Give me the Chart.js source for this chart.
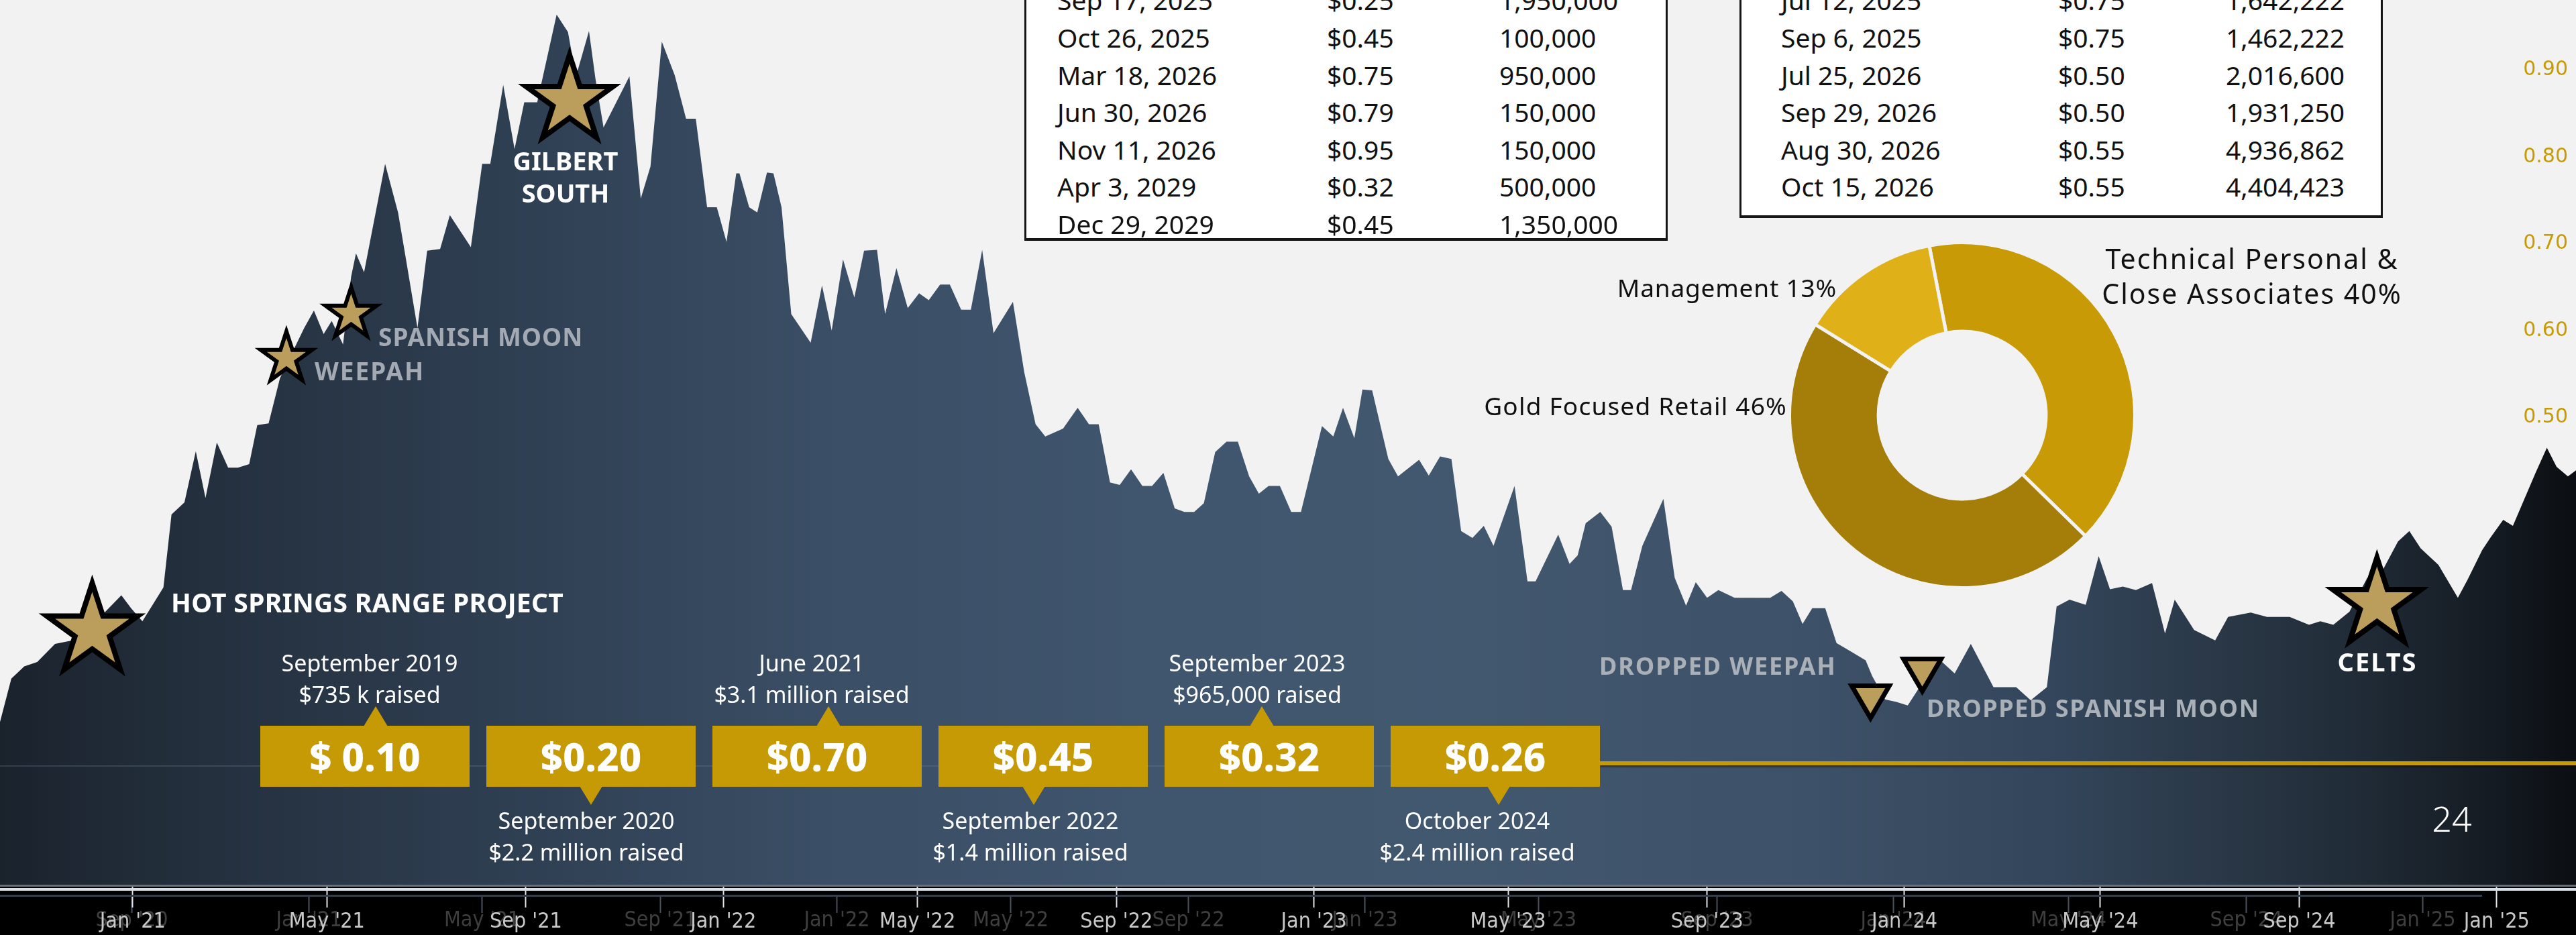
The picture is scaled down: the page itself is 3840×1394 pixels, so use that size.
<!DOCTYPE html>
<html>
<head>
<meta charset="utf-8">
<title>Share price history</title>
<script src="https://cdn.jsdelivr.net/npm/chart.js@4.4.1/dist/chart.umd.min.js"></script>
<style>
  html, body { margin:0; padding:0; background:#f2f2f2; }
  #wrap { position:relative; width:3840px; height:1394px; overflow:hidden; background:#f2f2f2;
          font-family:'Noto Sans','DejaVu Sans',sans-serif; }
  canvas { position:absolute; display:block; }
  .t { position:absolute; white-space:pre; line-height:1; transform:translateY(-50%); }
  .box { position:absolute; box-sizing:border-box; background:#fff; border:3px solid #151515; border-bottom-width:4px; }
  .price { position:absolute; width:312px; height:91px; background:#c69a04; color:#fff; font-weight:800;
           font-size:58px; display:flex; align-items:center; justify-content:center; line-height:1; }
  .tri-up { position:absolute; width:0; height:0; border-left:18px solid transparent; border-right:18px solid transparent; border-bottom:30px solid #c69a04; }
  .tri-down { position:absolute; width:0; height:0; border-left:17px solid transparent; border-right:17px solid transparent; border-top:28px solid #c69a04; }
</style>
</head>
<body>
<div id="wrap">
  <canvas id="main" width="3840" height="1394" style="left:0;top:0"></canvas>
  <canvas id="donut" width="520" height="520" style="left:2665px;top:359px"></canvas>
</div>
<script>
// ================= DATA =================
const priceDates = [
 '2020-10-11','2020-10-18','2020-10-26','2020-11-03','2020-11-14','2020-11-30','2020-12-13','2020-12-25','2020-12-31',
 '2021-01-07','2021-01-15','2021-01-20','2021-01-25','2021-02-02','2021-02-09','2021-02-15','2021-02-22','2021-03-01',
 '2021-03-07','2021-03-14','2021-03-19','2021-03-26','2021-04-02','2021-04-10','2021-04-17','2021-04-23','2021-04-29',
 '2021-05-04','2021-05-11','2021-05-16','2021-05-19','2021-05-24','2021-06-06','2021-06-14','2021-06-18','2021-06-26',
 '2021-07-02','2021-07-10','2021-07-16','2021-07-29','2021-08-05','2021-08-10','2021-08-18','2021-08-25','2021-08-31',
 '2021-09-08','2021-09-20','2021-09-27','2021-10-02','2021-10-10','2021-10-14','2021-10-19','2021-11-04','2021-11-11',
 '2021-11-17','2021-11-24','2021-12-02','2021-12-09','2021-12-15','2021-12-22','2021-12-28','2022-01-03','2022-01-09',
 '2022-01-11','2022-01-17','2022-01-22','2022-01-28','2022-02-01','2022-02-06','2022-02-12','2022-02-24','2022-03-03',
 '2022-03-09','2022-03-16','2022-03-23','2022-03-29','2022-04-06','2022-04-11','2022-04-18','2022-04-25','2022-05-02',
 '2022-05-08','2022-05-15','2022-05-21','2022-05-28','2022-06-03','2022-06-10','2022-06-17','2022-06-29','2022-07-06',
 '2022-07-13','2022-07-19','2022-07-30','2022-08-08','2022-08-15','2022-08-21','2022-08-28','2022-09-03','2022-09-10',
 '2022-09-17','2022-09-23','2022-09-30','2022-10-07','2022-10-13','2022-10-19','2022-10-25','2022-11-01','2022-11-08',
 '2022-11-15','2022-11-22','2022-11-28','2022-12-04','2022-12-11','2022-12-18','2022-12-24','2023-01-06','2023-01-13',
 '2023-01-19','2023-01-26','2023-01-31','2023-02-06','2023-02-16','2023-02-22','2023-03-07','2023-03-13','2023-03-20',
 '2023-03-27','2023-04-02','2023-04-09','2023-04-16','2023-04-22','2023-05-05','2023-05-13','2023-05-18','2023-06-01',
 '2023-06-08','2023-06-13','2023-06-18','2023-06-27','2023-07-04','2023-07-11','2023-07-16','2023-07-23','2023-08-05',
 '2023-08-12','2023-08-19','2023-08-25','2023-09-01','2023-09-08','2023-09-18','2023-10-10','2023-10-17','2023-10-24',
 '2023-10-30','2023-11-05','2023-11-13','2023-11-20','2023-11-29','2023-12-08','2023-12-12','2023-12-20','2023-12-27',
 '2024-01-03','2024-01-12','2024-01-22','2024-02-01','2024-02-11','2024-02-25','2024-03-10','2024-03-19','2024-03-29',
 '2024-04-04','2024-04-12','2024-04-22','2024-04-30','2024-05-07','2024-05-15','2024-05-23','2024-06-02','2024-06-10',
 '2024-06-16','2024-06-28','2024-07-11','2024-07-19','2024-08-02','2024-08-12','2024-08-26','2024-09-07','2024-09-14',
 '2024-09-22','2024-10-02','2024-10-13','2024-10-22','2024-11-01','2024-11-08','2024-11-15','2024-11-26','2024-12-08',
 '2024-12-14','2024-12-23','2024-12-28','2025-01-05','2025-01-11','2025-01-25','2025-02-01','2025-02-07','2025-02-14',
 '2025-02-19'
];
const priceValues = [
 0.149,0.199,0.213,0.218,0.239,0.245,0.272,0.295,0.280,
 0.265,0.289,0.304,0.388,0.402,0.461,0.407,0.471,0.442,
 0.442,0.446,0.491,0.493,0.545,0.576,0.603,0.623,0.596,
 0.611,0.584,0.662,0.689,0.667,0.792,0.736,0.692,0.603,
 0.692,0.694,0.733,0.696,0.792,0.792,0.883,0.809,0.863,
 0.863,0.964,0.944,0.893,0.945,0.890,0.834,0.893,0.752,
 0.789,0.933,0.894,0.844,0.844,0.742,0.742,0.702,0.781,
 0.781,0.742,0.736,0.782,0.781,0.742,0.619,0.586,0.652,
 0.600,0.682,0.638,0.692,0.693,0.619,0.672,0.626,0.643,
 0.635,0.653,0.653,0.624,0.624,0.693,0.597,0.633,0.552,
 0.492,0.478,0.487,0.511,0.492,0.492,0.425,0.422,0.440,
 0.421,0.421,0.436,0.395,0.391,0.391,0.401,0.460,0.472,
 0.472,0.432,0.412,0.421,0.421,0.391,0.391,0.490,0.478,
 0.511,0.476,0.532,0.531,0.452,0.432,0.451,0.433,0.455,
 0.452,0.369,0.361,0.375,0.352,0.421,0.311,0.311,0.365,
 0.331,0.341,0.378,0.391,0.374,0.301,0.301,0.352,0.406,
 0.315,0.283,0.310,0.292,0.301,0.292,0.292,0.300,0.288,
 0.262,0.280,0.280,0.240,0.230,0.220,0.202,0.175,0.172,
 0.168,0.194,0.222,0.205,0.239,0.189,0.189,0.174,0.189,
 0.282,0.290,0.284,0.340,0.302,0.305,0.301,0.309,0.251,
 0.290,0.255,0.243,0.270,0.275,0.270,0.270,0.261,0.265,
 0.261,0.276,0.315,0.322,0.357,0.369,0.349,0.330,0.292,
 0.313,0.347,0.361,0.382,0.375,0.436,0.465,0.443,0.432,
 0.439
];
const tickDates = ['2021-01-01','2021-05-01','2021-09-01','2022-01-01','2022-05-01','2022-09-01','2023-01-01',
                   '2023-05-01','2023-09-01','2024-01-01','2024-05-01','2024-09-01','2025-01-01'];
const tickLabels = ["Jan '21","May '21","Sep '21","Jan '22","May '22","Sep '22","Jan '23",
                    "May '23","Sep '23","Jan '24","May '24","Sep '24","Jan '25"];
const ghostTickDates = ['2020-09-01','2021-01-01','2021-05-01','2021-09-01','2022-01-01','2022-05-01','2022-09-01',
                        '2023-01-01','2023-05-01','2023-09-01','2024-01-01','2024-05-01','2024-09-01','2025-01-01'];
const ghostTickLabels = ["Sep '20","Jan '21","May '21","Sep '21","Jan '22","May '22","Sep '22",
                         "Jan '23","May '23","Sep '23","Jan '24","May '24","Sep '24","Jan '25"];
const ghostRange = ['2020-06-02','2025-04-17'];
const yTickValues = [0.2,0.3,0.4,0.5,0.6,0.7,0.8,0.9];
const yRange = [-0.0385, 0.9762];

const starNames  = ['HOT SPRINGS RANGE PROJECT','WEEPAH','SPANISH MOON','GILBERT SOUTH','CELTS'];
const starDates  = ['2020-12-07','2021-04-06','2021-05-16','2021-09-28','2024-10-19'];
const starValues = [0.254, 0.568, 0.619, 0.865, 0.285];
const dropNames  = ['DROPPED WEEPAH','DROPPED SPANISH MOON'];
const dropDates  = ['2023-12-11','2024-01-12'];
const dropValues = [0.172, 0.203];

const raisePrices  = ['$ 0.10','$0.20','$0.70','$0.45','$0.32','$0.26'];
const raiseMonths  = ['September 2019','September 2020','June 2021','September 2022','September 2023','October 2024'];
const raiseAmounts = ['$735 k raised','$2.2 million raised','$3.1 million raised','$1.4 million raised','$965,000 raised','$2.4 million raised'];

const holderLabels = ['Technical Personal & Close Associates','Gold Focused Retail','Management'];
const holderShares = [40, 46, 13];

const leftTableDates  = ['Sep 17, 2025','Oct 26, 2025','Mar 18, 2026','Jun 30, 2026','Nov 11, 2026','Apr 3, 2029','Dec 29, 2029'];
const leftTablePrices = ['$0.25','$0.45','$0.75','$0.79','$0.95','$0.32','$0.45'];
const leftTableShares = ['1,950,000','100,000','950,000','150,000','150,000','500,000','1,350,000'];
const rightTableDates  = ['Jul 12, 2025','Sep 6, 2025','Jul 25, 2026','Sep 29, 2026','Aug 30, 2026','Oct 15, 2026'];
const rightTablePrices = ['$0.75','$0.75','$0.50','$0.50','$0.55','$0.55'];
const rightTableShares = ['1,642,222','1,462,222','2,016,600','1,931,250','4,936,862','4,404,423'];
const pageNumber = '24';

// ================= STYLE / LAYOUT =================
const starStyle = { radius:[71,40,40,68,69], width:[8,6,6,8,8], fill:'#bc9e5c' };
const dropStyle = { w:56, h:48, width:7, fill:'#bc9e5c' };
const axisFont = "'DejaVu Sans Condensed','Liberation Sans Narrow',sans-serif";

const dayNum = s => { const [y,m,d] = s.split('-').map(Number); return (Date.UTC(y,m-1,d) - Date.UTC(2021,0,1)) / 86400000; };

function areaFill(context) {
  const chart = context.chart; const {ctx, chartArea} = chart;
  if (!chartArea) return '#34475c';
  const g = ctx.createLinearGradient(chartArea.left, 0, chartArea.right, 0);
  [[0,'#1a222c'],[0.06,'#222d3a'],[0.19,'#2e3e51'],[0.32,'#3a4e65'],[0.45,'#40566e'],[0.57,'#42586f'],
   [0.70,'#3d5168'],[0.80,'#33455a'],[0.86,'#2a3847'],[0.92,'#1f2a35'],[0.97,'#141a21'],[1,'#0b0e12']]
   .forEach(([o,c]) => g.addColorStop(o,c));
  return g;
}

function starPath(ctx, cx, cy, R) {
  const r = R * 0.382;
  ctx.beginPath();
  for (let i = 0; i < 10; i++) {
    const a = -Math.PI/2 + i*Math.PI/5, rad = i % 2 === 0 ? R : r;
    const px = cx + rad*Math.cos(a), py = cy + rad*Math.sin(a);
    i ? ctx.lineTo(px, py) : ctx.moveTo(px, py);
  }
  ctx.closePath();
}

const decor = {
  id: 'decor',
  beforeDraw(chart) {
    const {ctx, chartArea} = chart;
    ctx.save();
    ctx.fillStyle = '#000';
    ctx.fillRect(0, chartArea.bottom, chart.width, chart.height - chartArea.bottom);
    const xg = chart.scales.xg;
    ctx.strokeStyle = '#4a535d'; ctx.lineWidth = 2;
    ctx.font = '32px ' + axisFont; ctx.fillStyle = '#3f3f3f'; ctx.textAlign = 'center'; ctx.textBaseline = 'middle';
    ghostTickDates.forEach((d, i) => {
      const px = Math.round(xg.getPixelForValue(dayNum(d))) + 0.5;
      ctx.beginPath(); ctx.moveTo(px, chartArea.bottom + 17); ctx.lineTo(px, chartArea.bottom + 42); ctx.stroke();
      ctx.fillText(ghostTickLabels[i], px, chartArea.bottom + 54);
    });
    ctx.restore();
  },
  afterDatasetsDraw(chart) {
    const {ctx, chartArea, scales:{x, y}} = chart;
    ctx.save();
    const b = chartArea.bottom;
    ctx.fillStyle = '#66717d'; ctx.fillRect(0, b, chart.width, 3);
    ctx.fillStyle = '#d9dfe6'; ctx.fillRect(0, b + 5, chart.width, 4);
    ctx.fillStyle = '#353f4a'; ctx.fillRect(0, b + 15, 3700, 3);
    // stars
    starDates.forEach((d, i) => {
      const cx = x.getPixelForValue(dayNum(d)), cy = y.getPixelForValue(starValues[i]);
      starPath(ctx, cx, cy, starStyle.radius[i]);
      ctx.fillStyle = starStyle.fill; ctx.fill();
      ctx.lineJoin = 'miter'; ctx.miterLimit = 10; ctx.lineWidth = starStyle.width[i]; ctx.strokeStyle = '#000'; ctx.stroke();
    });
    // dropped markers (down triangles)
    dropDates.forEach((d, i) => {
      const cx = x.getPixelForValue(dayNum(d)), cy = y.getPixelForValue(dropValues[i]);
      const {w, h} = dropStyle;
      ctx.beginPath(); ctx.moveTo(cx - w/2, cy - h/2); ctx.lineTo(cx + w/2, cy - h/2); ctx.lineTo(cx, cy + h/2); ctx.closePath();
      ctx.fillStyle = dropStyle.fill; ctx.fill();
      ctx.lineJoin = 'miter'; ctx.miterLimit = 10; ctx.lineWidth = dropStyle.width; ctx.strokeStyle = '#000'; ctx.stroke();
    });
    ctx.restore();
  }
};

new Chart(document.getElementById('main'), {
  type: 'line',
  data: { datasets: [{
    data: priceDates.map((d, i) => ({x: dayNum(d), y: priceValues[i]})),
    xAxisID: 'x', yAxisID: 'y',
    fill: 'start', backgroundColor: areaFill, borderColor: 'rgba(0,0,0,0)', borderWidth: 0,
    pointRadius: 0, tension: 0
  }]},
  options: {
    responsive: false, animation: false, devicePixelRatio: 1, events: [],
    layout: { padding: 0, autoPadding: false },
    plugins: { legend: {display: false}, tooltip: {enabled: false} },
    scales: {
      x: {
        type: 'linear', position: 'bottom',
        min: dayNum(priceDates[0]), max: dayNum(priceDates[priceDates.length - 1]),
        afterBuildTicks: s => { s.ticks = tickDates.map(d => ({value: dayNum(d)})); },
        afterFit: s => { s.height = 75; },
        grid: { display: true, drawOnChartArea: false, drawTicks: true, tickLength: 34, tickColor: '#dfe4ea', tickWidth: 2 },
        border: { display: false },
        ticks: { autoSkip: false, maxRotation: 0, minRotation: 0, padding: 2, color: '#c9c9c9',
                 font: { family: axisFont, size: 32 }, callback: (v, i) => tickLabels[i] }
      },
      xg: {
        type: 'linear', display: false, min: dayNum(ghostRange[0]), max: dayNum(ghostRange[1])
      },
      y: {
        type: 'linear', position: 'right', min: yRange[0], max: yRange[1], z: 1,
        afterBuildTicks: s => { s.ticks = yTickValues.map(v => ({value: v})); },
        afterFit: s => { s.width = 0; },
        grid: { display: false, drawTicks: false }, border: { display: false },
        ticks: { mirror: true, padding: -12, color: '#c89b00', font: { family: "'DejaVu Sans',sans-serif", size: 30 },
                 callback: v => v.toFixed(2) }
      }
    }
  },
  plugins: [decor]
});

new Chart(document.getElementById('donut'), {
  type: 'doughnut',
  data: { labels: holderLabels, datasets: [{ data: holderShares,
    backgroundColor: ['#c89a06', '#a47e08', '#dfb018'], borderColor: '#f2f2f2', borderWidth: 5 }] },
  options: { responsive: false, animation: false, devicePixelRatio: 1, events: [], cutout: '48.5%', rotation: -11,
    layout: { padding: 0 }, plugins: { legend: {display: false}, tooltip: {enabled: false} } }
});

// ================= HTML OVERLAYS =================
const wrap = document.getElementById('wrap');
function txt(s, x, y, o = {}) {
  const el = document.createElement('div');
  el.className = 't'; el.textContent = s;
  el.style.fontSize = (o.size || 34) + 'px';
  el.style.color = o.color || '#111';
  if (o.weight) el.style.fontWeight = o.weight;
  if (o.family) el.style.fontFamily = o.family;
  if (o.lh) el.style.lineHeight = o.lh + 'px';
  if (o.ls) el.style.letterSpacing = o.ls + 'px';
  el.style.top = y + 'px';
  if (o.align === 'center') { el.style.left = x + 'px'; el.style.transform = 'translate(-50%,-50%)'; el.style.textAlign = 'center'; }
  else if (o.align === 'right') { el.style.right = (3840 - x) + 'px'; el.style.textAlign = 'right'; }
  else el.style.left = x + 'px';
  wrap.appendChild(el);
  return el;
}
function div(cls, css) { const el = document.createElement('div'); el.className = cls; Object.assign(el.style, css); wrap.appendChild(el); return el; }

// warrant / option tables
div('box', { left:'1527px', top:'-40px', width:'959px', height:'399px' });
leftTableDates.forEach((d, i) => {
  const yy = -0.6 + 55.6 * i;
  txt(d, 1576, yy, {size:39}); txt(leftTablePrices[i], 1978, yy, {size:39}); txt(leftTableShares[i], 2235, yy, {size:39});
});
div('box', { left:'2593px', top:'-40px', width:'959px', height:'365px' });
rightTableDates.forEach((d, i) => {
  const yy = -0.6 + 55.6 * i;
  txt(d, 2655, yy, {size:39}); txt(rightTablePrices[i], 3068, yy, {size:39}); txt(rightTableShares[i], 3318, yy, {size:39});
});

// doughnut labels
txt(holderLabels[0].replace('& ', '&\n') + ' ' + holderShares[0] + '%', 3357, 411, {size:41, align:'center', lh:52, ls:2});
txt(holderLabels[1] + ' ' + holderShares[1] + '%', 2664, 604, {size:37, align:'right', ls:1.2});
txt(holderLabels[2] + ' ' + holderShares[2] + '%', 2738, 428, {size:37, align:'right', ls:0.8});

// marker labels
txt(starNames[0], 255, 897, {size:39, weight:700, color:'#fff', ls:0.3});
txt(starNames[1], 469, 552, {size:37, weight:700, color:'#a3aab3', ls:2});
txt(starNames[2], 564, 501, {size:37, weight:700, color:'#a3aab3', ls:1});
txt(starNames[3].replace(' ', '\n'), 843, 263, {size:38, weight:700, color:'#fff', align:'center', lh:48});
txt(starNames[4], 3544, 986, {size:38, weight:700, color:'#fff', align:'center', ls:2});
txt(dropNames[0], 2384, 993, {size:36, weight:700, color:'#a9b0b8', ls:1.9});
txt(dropNames[1], 2872, 1056, {size:36, weight:700, color:'#a9b0b8', ls:1.6});
txt(pageNumber, 3655, 1220, {size:52, weight:300, color:'#fff', align:'center'});

// capital-raise timeline
div('', { position:'absolute', left:'0px', top:'1141px', width:'2385px', height:'2px', background:'rgba(110,130,150,0.3)' });
div('', { position:'absolute', left:'2385px', top:'1135px', width:'1455px', height:'6px', background:'#c69a04',
          boxShadow:'0 3px 2px rgba(0,0,0,0.35)' });
const apexX = [560, 881, 1235, 1541, 1881, 2234];
const annX  = [551, 874, 1210, 1536, 1874, 2202];
raisePrices.forEach((p, i) => {
  const left = 388 + 337 * i;
  const up = i % 2 === 0;
  if (up) div('tri-up', { left:(apexX[i] - 18) + 'px', top:'1053px' });
  else div('tri-down', { left:(apexX[i] - 17) + 'px', top:'1172px' });
  const b = div('price', { left:left + 'px', top:'1082px' });
  b.textContent = p;
  const y1 = up ? 988 : 1223, y2 = up ? 1035 : 1270;
  txt(raiseMonths[i], annX[i], y1, {size:34, color:'#fff', align:'center'});
  txt(raiseAmounts[i], annX[i], y2, {size:34, color:'#fff', align:'center'});
});
</script>
</body>
</html>
